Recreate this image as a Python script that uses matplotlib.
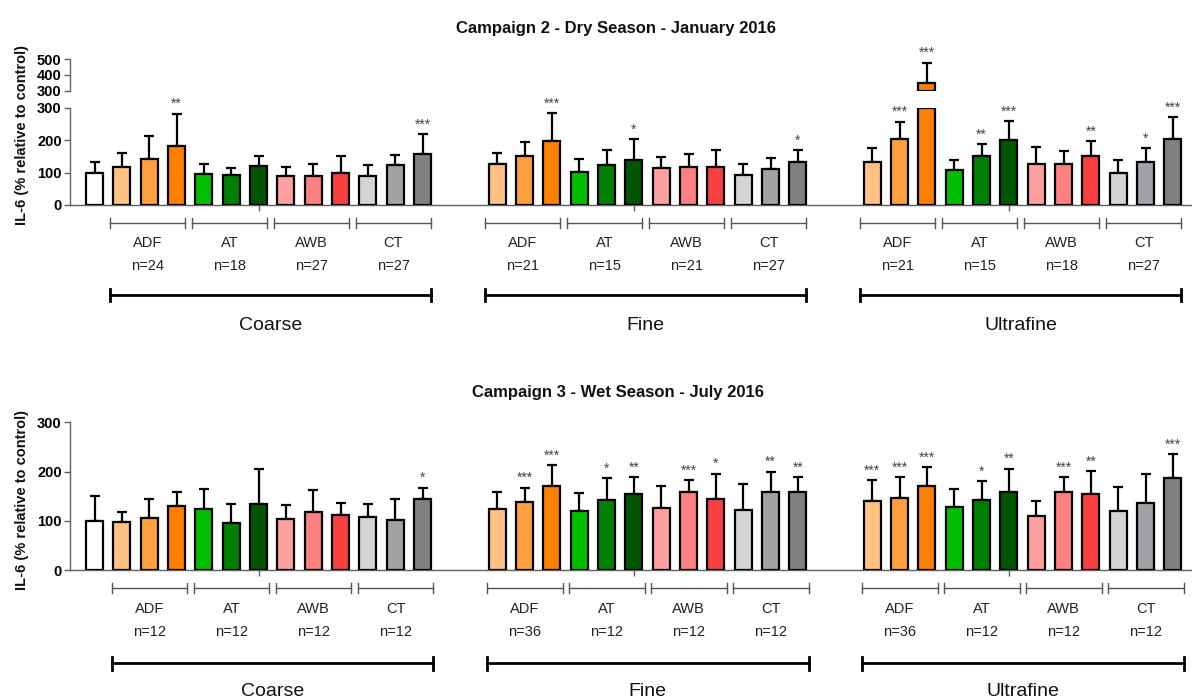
import matplotlib
matplotlib.use("Agg")
import matplotlib.pyplot as plt
from matplotlib.transforms import blended_transform_factory

plt.rcParams['font.family'] = ['Liberation Sans', 'DejaVu Sans']

# ---------------- data ----------------
fractions = ["Coarse", "Fine", "Ultrafine"]
sources = ["ADF", "AT", "AWB", "CT"]
colors = ["#FFC283", "#FFA040", "#FF8000",
          "#00BF00", "#007F00", "#005500",
          "#FFA0A0", "#FF8080", "#F84040",
          "#D4D4D4", "#A2A2A6", "#808080"]
control_color = "#FFFFFF"

# Campaign 2 (dry season)
c2_control_mean, c2_control_sd = 100, 33
c2_coarse_mean = [117, 143, 182, 95, 93, 121, 88, 90, 98, 90, 122, 157]
c2_coarse_sd = [44, 70, 100, 32, 21, 29, 29, 37, 52, 34, 32, 61]
c2_fine_mean = [125, 150, 196, 102, 122, 139, 113, 116, 116, 93, 110, 133]
c2_fine_sd = [35, 43, 87, 39, 48, 64, 34, 40, 54, 34, 34, 37]
c2_ultra_mean = [133, 202, 348, 108, 151, 199, 125, 125, 151, 99, 133, 202]
c2_ultra_sd = [43, 55, 131, 31, 37, 60, 55, 43, 46, 40, 43, 69]
c2_coarse_sig = ["", "", "**", "", "", "", "", "", "", "", "", "***"]
c2_fine_sig = ["", "", "***", "", "", "*", "", "", "", "", "", "*"]
c2_ultra_sig = ["", "***", "***", "", "**", "***", "", "", "**", "", "*", "***"]
c2_n = [["24", "18", "27", "27"], ["21", "15", "21", "27"], ["21", "15", "18", "27"]]

# Campaign 3 (wet season)
c3_control_mean, c3_control_sd = 100, 50
c3_coarse_mean = [97.5, 105, 131, 124, 95, 135, 104, 118, 112, 108, 101, 144]
c3_coarse_sd = [20.5, 40, 27, 41, 40, 70, 29, 45, 25, 27, 44, 23]
c3_fine_mean = [124, 139, 171, 120.5, 142, 154, 125, 158, 144, 122, 158, 158]
c3_fine_sd = [34, 28, 42, 35.5, 44, 35, 46, 24, 52, 53, 42, 30]
c3_ultra_mean = [141, 146, 171, 127, 142, 158, 110, 158, 154, 120.5, 137, 186]
c3_ultra_sd = [42, 42, 38, 38, 39, 48, 31, 30, 47, 48.5, 59, 49]
c3_coarse_sig = ["", "", "", "", "", "", "", "", "", "", "", "*"]
c3_fine_sig = ["", "***", "***", "", "*", "**", "", "***", "*", "", "**", "**"]
c3_ultra_sig = ["***", "***", "***", "", "*", "**", "", "***", "**", "", "", "***"]
c3_n = [["12", "12", "12", "12"], ["36", "12", "12", "12"], ["36", "12", "12", "12"]]

# ---------------- layout ----------------
W, H = 1192, 700
fig = plt.figure(figsize=(W / 100, H / 100), dpi=100)

GROUP_OFFSETS = [0.0, 13.73, 27.45]
XLIM = (-0.9, 40.15)
BAR_W = 0.62
AX_GRAY = "#606060"


def fy(px):
    """Figure fraction from a pixel row measured from the top."""
    return (H - px) / H


def fx(px):
    return px / W


def style_axis(ax, show_bottom=True):
    ax.set_xlim(*XLIM)
    for s in ["top", "right"]:
        ax.spines[s].set_visible(False)
    ax.spines["left"].set_color(AX_GRAY)
    ax.spines["left"].set_linewidth(1.0)
    if show_bottom:
        ax.spines["bottom"].set_color(AX_GRAY)
        ax.spines["bottom"].set_linewidth(1.0)
    else:
        ax.spines["bottom"].set_visible(False)
    ax.tick_params(axis="y", direction="out", length=4.5, width=1.0, color=AX_GRAY,
                   labelsize=10.5, pad=1.5)
    for lab in ax.get_yticklabels():
        lab.set_fontweight("bold")
    ax.tick_params(axis="x", direction="out", length=4.5, width=1.0, color=AX_GRAY,
                   labelbottom=False)
    ax.set_xticks([g + 6 for g in GROUP_OFFSETS])
    ax.patch.set_alpha(0)


def draw_bars(ax, xs, means, sds, cols, sigs, ymax=None, upper_ax=None):
    for x, m, s, c, sig in zip(xs, means, sds, cols, sigs):
        h = m if ymax is None else min(m, ymax)
        ax.bar(x, h, width=BAR_W, color=c, edgecolor="black", linewidth=1.6, zorder=3)
        if ymax is not None and m > ymax and upper_ax is not None:
            upper_ax.bar(x, m - ymax, bottom=ymax, width=BAR_W, color=c,
                         edgecolor="black", linewidth=1.6, zorder=3)
            target = upper_ax
        else:
            target = ax
        target.errorbar(x, m, yerr=[[0], [s]], fmt="none", ecolor="black",
                        elinewidth=1.6, capsize=3.5, capthick=1.6, zorder=2)
        if sig:
            target.annotate(sig, (x, m + s), xytext=(0, 4), textcoords="offset points",
                            ha="center", va="baseline", fontsize=10, color="#444444",
                            annotation_clip=False)


def draw_panel(ax, ctrl_mean, ctrl_sd, groups, sigs, ns, label_rows, shift,
               ymax=None, upper_ax=None):
    # control bar in the first group only
    draw_bars(ax, [0], [ctrl_mean], [ctrl_sd], [control_color], [""], ymax, upper_ax)
    for g, (means, sds), sg in zip(GROUP_OFFSETS, groups, sigs):
        xs = [g + 1 + i for i in range(12)]
        draw_bars(ax, xs, means, sds, colors, sg, ymax, upper_ax)

    tr = blended_transform_factory(ax.transData, fig.transFigure)
    y_br, y_src, y_n, y_long, y_frac = label_rows
    th = 5 / H
    th2 = 6.5 / H
    for gi, g in enumerate(GROUP_OFFSETS):
        starts = []
        ends = []
        for si, src in enumerate(sources):
            p = g + 1 + 3 * si
            a, b = p - 0.37 + shift, p + 2.39 + shift
            starts.append(a)
            ends.append(b)
            ax.plot([a, b], [y_br, y_br], color="#555555", lw=1.0, transform=tr, clip_on=False)
            for e in (a, b):
                ax.plot([e, e], [y_br - th, y_br + th], color="#555555", lw=1.0,
                        transform=tr, clip_on=False)
            ax.text((a + b) / 2, y_src, src, transform=tr, ha="center", va="center",
                    fontsize=10.5, color="#222222")
            ax.text((a + b) / 2, y_n, "n=" + ns[gi][si], transform=tr, ha="center",
                    va="center", fontsize=10.5, color="#222222")
        a, b = starts[0], ends[-1]
        ax.plot([a, b], [y_long, y_long], color="black", lw=2.0, transform=tr, clip_on=False)
        for e in (a, b):
            ax.plot([e, e], [y_long - th2, y_long + th2], color="black", lw=2.0,
                    transform=tr, clip_on=False)
        ax.text((a + b) / 2, y_frac, fractions[gi], transform=tr, ha="center",
                va="center", fontsize=14, color="#111111")


# ---- Campaign 2 (broken y axis) ----
left = fx(70)
width = 1 - left
ax_top_lo = fig.add_axes([left, fy(205), width, fy(107.7) - fy(205)])
ax_top_hi = fig.add_axes([left, fy(90.7), width, fy(59.3) - fy(90.7)])
ax_top_lo.set_ylim(0, 300)
ax_top_lo.set_yticks([0, 100, 200, 300])
ax_top_hi.set_ylim(300, 500)
ax_top_hi.set_yticks([300, 400, 500])
style_axis(ax_top_lo)
style_axis(ax_top_hi, show_bottom=False)
ax_top_hi.tick_params(axis="x", length=0)

draw_panel(ax_top_lo, c2_control_mean, c2_control_sd,
           [(c2_coarse_mean, c2_coarse_sd), (c2_fine_mean, c2_fine_sd),
            (c2_ultra_mean, c2_ultra_sd)],
           [c2_coarse_sig, c2_fine_sig, c2_ultra_sig], c2_n,
           (fy(223.3), fy(243), fy(265.7), fy(295), fy(325)), -0.08,
           ymax=300, upper_ax=ax_top_hi)

# ---- Campaign 3 ----
ax_bot = fig.add_axes([left, fy(570), width, fy(422.3) - fy(570)])
ax_bot.set_ylim(0, 300)
ax_bot.set_yticks([0, 100, 200, 300])
style_axis(ax_bot)
draw_panel(ax_bot, c3_control_mean, c3_control_sd,
           [(c3_coarse_mean, c3_coarse_sd), (c3_fine_mean, c3_fine_sd),
            (c3_ultra_mean, c3_ultra_sd)],
           [c3_coarse_sig, c3_fine_sig, c3_ultra_sig], c3_n,
           (fy(588.3), fy(609), fy(631.7), fy(663), fy(691.5)), 0.0)

# titles and axis labels
fig.text(fx(616), fy(28), "Campaign 2 - Dry Season - January 2016", ha="center",
         va="center", fontsize=12, fontweight="bold", color="#111111")
fig.text(fx(618), fy(392), "Campaign 3 - Wet Season - July 2016", ha="center",
         va="center", fontsize=12, fontweight="bold", color="#111111")
ylab = "IL-6 (% relative to control)"
fig.text(fx(22), fy(135), ylab, rotation=90, ha="center", va="center",
         fontsize=10.5, fontweight="bold", color="#111111")
fig.text(fx(22), fy(500), ylab, rotation=90, ha="center", va="center",
         fontsize=10.5, fontweight="bold", color="#111111")

fig.savefig("out.png", dpi=100, facecolor="white")
